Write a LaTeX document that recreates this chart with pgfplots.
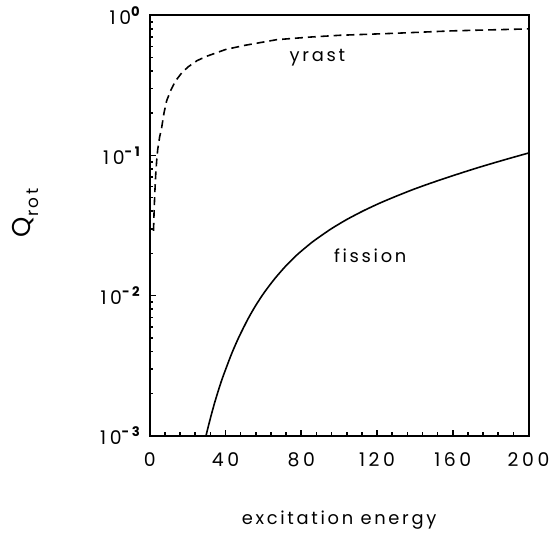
\documentclass[border=0pt]{standalone}
\usepackage{fontspec}
\setmainfont{Poppins}[LetterSpace=15]
\newfontfamily\tickfont{Poppins}[LetterSpace=19]
\usepackage{pgfplots}
\pgfplotsset{compat=1.18}
\begin{document}
\begin{tikzpicture}
\begin{axis}[
  scale only axis,
  width=191pt, height=212pt,
  at={(0,0)}, anchor=south west,
  xmin=0, xmax=200,
  ymode=log, ymin=1e-3, ymax=1,
  axis line style={line width=1pt},
  tick align=inside,
  xtick pos=bottom, ytick pos=left,
  xtick={0,40,80,120,160,200},
  minor x tick num=4,
  ytick={1e-3,1e-2,1e-1,1},
  yticklabels={10\textsuperscript{\bfseries -3},10\textsuperscript{\bfseries -2},10\textsuperscript{\bfseries -1},10\textsuperscript{\bfseries 0}},
  major tick length=3pt, minor tick length=1.8pt,
  every tick/.style={line width=0.8pt, black},
  tick label style={font=\tickfont\fontsize{9.5}{11}\selectfont},
  /pgf/number format/assume math mode=true,
  xticklabel style={yshift=-5pt},
  yticklabel style={xshift=-1pt},
  xlabel={excitation energy},
  ylabel={Q{\fontsize{8.5}{10}\selectfont\raisebox{-4pt}{rot}}},
  xlabel style={font=\fontsize{9}{11}\selectfont, at={(axis description cs:0.5,0)}, anchor=center, yshift=-42.5pt},
  ylabel style={font=\fontsize{13}{15}\selectfont, at={(axis description cs:-0.327,0.53)}, anchor=center},
  clip=true,
]
\addplot[black, line width=0.8pt, dash pattern=on 4pt off 2.5pt] coordinates {
(2.0,0.029)(2.3,0.04)(2.7,0.055)(3.2,0.075)(3.7,0.093)(4.2,0.11)(5.2,0.135)(6.3,0.158)(7.5,0.2)(8.9,0.245)(11,0.29)(13.6,0.34)(17,0.39)(20.4,0.43)(25,0.475)(30,0.51)(40,0.57)(50,0.61)(67,0.67)(85,0.70)(100,0.72)(130,0.745)(160,0.775)(200,0.80)
};
\addplot[black, line width=0.8pt, smooth, tension=0.4] coordinates {
(29.7,0.001)(32,0.001330)(34.4,0.001746)(38,0.002495)(43.1,0.003811)(47,0.005035)(51.8,0.006792)(56,0.008531)(60.6,0.010593)(66,0.013213)(72,0.016368)(78,0.019679)(86,0.02421)(95.4,0.02972)(104,0.03491)(112.9,0.04036)(121.6,0.04581)(130.4,0.05140)(139,0.05715)(147.8,0.06310)(156.5,0.06918)(165.3,0.07568)(174,0.08241)(182.7,0.08933)(191.3,0.09649)(200,0.10411)
};
\node[font=\fontsize{9}{11}\selectfont] at (axis cs:88.5,0.50) {yrast};
\node[font=\fontsize{9}{11}\selectfont] at (axis cs:116.4,0.0191) {fission};
\end{axis}
\path (-75.5pt,-47pt) rectangle (202.5pt,218.5pt);
\end{tikzpicture}
\end{document}
